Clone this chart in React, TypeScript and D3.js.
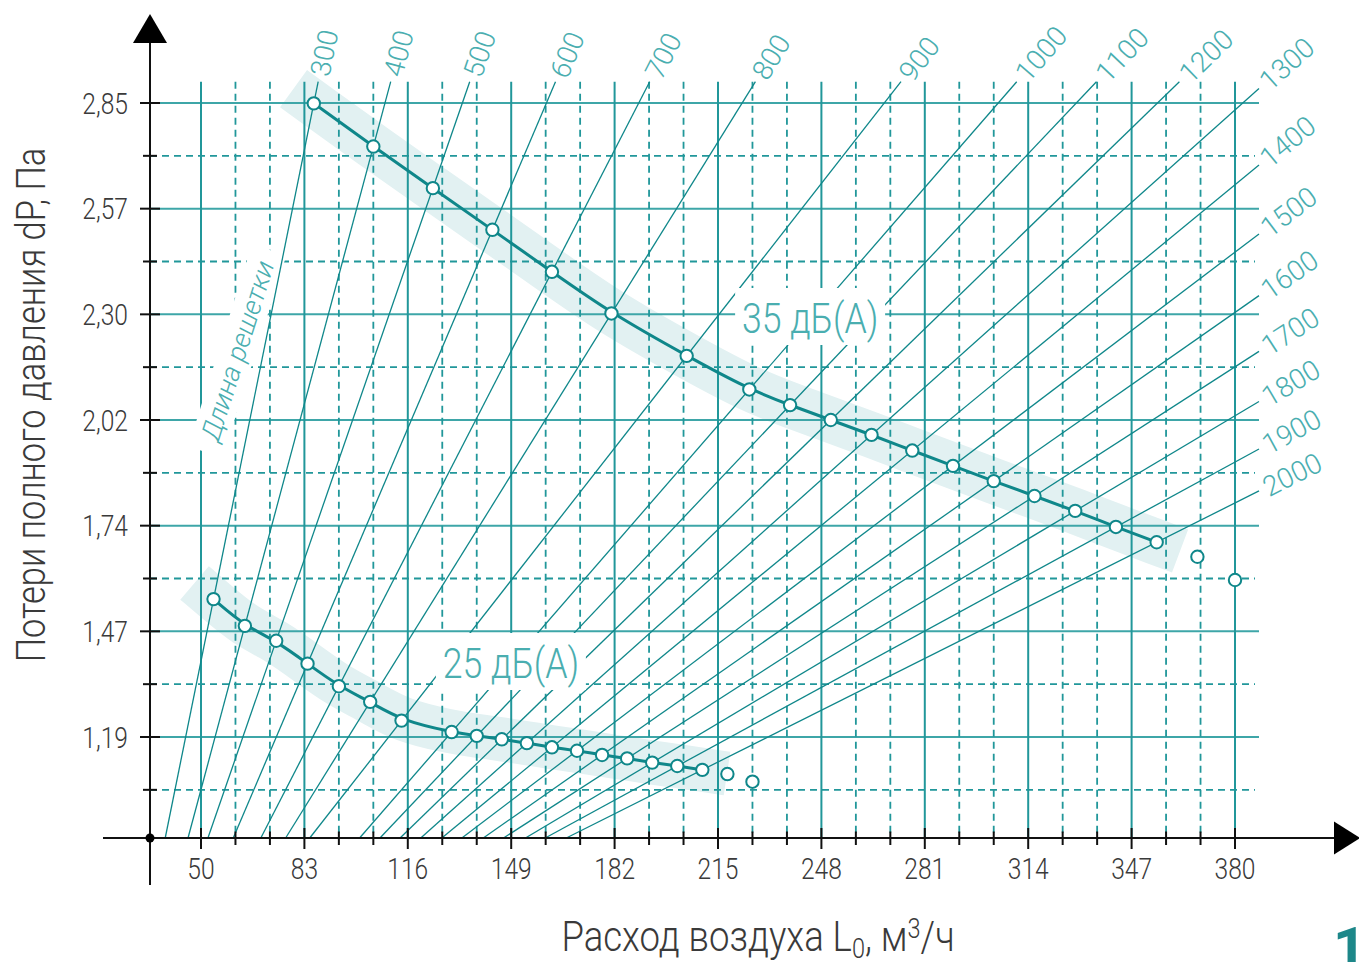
import React from "react";
import * as d3 from "d3";

// ---------- data ----------
const xTickLabels = ["50", "83", "116", "149", "182", "215", "248", "281", "314", "347", "380"];
const yTickLabels = ["1,19", "1,47", "1,74", "2,02", "2,30", "2,57", "2,85"];
const xMin = 50;
const xMax = 380;
const xMajorStep = 33;
const xMinorStep = 11;
const yMin = 1.19;
const yMax = 2.85;
const yMajorCount = 6;

// grille lengths, mm
const lengths = [300, 400, 500, 600, 700, 800, 900, 1000, 1100, 1200, 1300, 1400, 1500, 1600, 1700, 1800, 1900, 2000];

// 25 dB(A) series: air flow (m3/h) and pressure loss (Pa)
const flow25 = [54, 64, 74, 84, 94, 104, 114, 130, 138, 146, 154, 162, 170, 178, 186, 194, 202, 210, 218, 226];
const dp25 = [1.551, 1.481, 1.442, 1.382, 1.323, 1.282, 1.233, 1.203, 1.193, 1.184, 1.174, 1.163, 1.154, 1.143, 1.134, 1.123, 1.114, 1.104, 1.093, 1.073];

// 35 dB(A) series
const flow35 = [86, 105, 124, 143, 162, 181, 205, 225, 238, 251, 264, 277, 290, 303, 316, 329, 342, 355, 368, 380];
const dp35 = [2.849, 2.736, 2.627, 2.518, 2.408, 2.299, 2.188, 2.1, 2.059, 2.02, 1.981, 1.94, 1.9, 1.86, 1.821, 1.782, 1.74, 1.7, 1.662, 1.601];

const seriesLabels = ["25 дБ(А)", "35 дБ(А)"];
const labelAnchorFlow = [148.9, 244.4];
const labelAnchorDp = [1.3445, 2.2478];
const lengthTitle = "Длина решетки";
const lengthTitleFlow = 61.6;
const lengthTitleDp = 2.201;
const yTitle = "Потери полного давления dP, Па";
const pageNumber = "1";

// ---------- style ----------
const FONT = "Roboto, 'Open Sans', 'DejaVu Sans', sans-serif";
const TEAL = "#0f878a";
const GRID = "#21979a";
const GRID_H = "#3ea6a8";
const LABEL = "#4aaeb0";
const BAND = "#e2f1f2";
const TXT = "#3a3a3a";

type P = [number, number];

function Txt(props: any) {
  const { x, y, rot = 0, sx = 1, size, fill, anchor = "start", weight = 300, italic, dy, children } = props;
  return (
    <text
      transform={`translate(${x},${y}) rotate(${rot}) scale(${sx},1)`}
      fontSize={size}
      fill={fill}
      textAnchor={anchor}
      fontWeight={weight}
      fontFamily={FONT}
      fontStyle={italic ? "italic" : "normal"}
      dy={dy}
    >
      {children}
    </text>
  );
}

export default function App() {
  const W = 1359;
  const H = 962;
  const x = d3.scaleLinear().domain([xMin, xMax]).range([201, 1235]);
  const y = d3.scaleLinear().domain([yMin, yMax]).range([737, 103]);
  const axisX = 150;
  const axisY = 838;
  const gridTop = 81.7;
  const gridRight = 1259;

  const yStep = (yMax - yMin) / yMajorCount;
  const yMajor = d3.range(yMajorCount + 1).map((i) => yMin + i * yStep);
  const yMinor = d3.range(yMajorCount + 1).map((i) => yMin - yStep / 2 + i * yStep);
  const xMajor = d3.range(xMin, xMax + 0.001, xMajorStep);
  const xMinor = d3
    .range(xMin, xMax + 0.001, xMinorStep)
    .filter((v) => Math.abs((v - xMin) / xMajorStep - Math.round((v - xMin) / xMajorStep)) > 1e-6);

  const n = lengths.length;
  const pts25: P[] = flow25.map((f, i) => [x(f), y(dp25[i])]);
  const pts35: P[] = flow35.map((f, i) => [x(f), y(dp35[i])]);

  // grille-length lines through matching points of both series, clipped to the grid
  const diag = lengths.map((L, i) => {
    const p1 = pts25[i];
    const p2 = pts35[i];
    const dx = p2[0] - p1[0];
    const dy = p2[1] - p1[1];
    const tb = (axisY - p1[1]) / dy;
    const bottom: P = [p1[0] + tb * dx, axisY];
    const tt = (gridTop - p1[1]) / dy;
    const tr = (gridRight - p1[0]) / dx;
    const t = Math.min(tt, tr);
    const top: P = [p1[0] + t * dx, p1[1] + t * dy];
    const len = Math.hypot(dx, dy);
    const ux = dx / len;
    const uy = dy / len;
    const ang = (Math.atan2(dy, dx) * 180) / Math.PI;
    return { L, bottom, top, ux, uy, ang };
  });

  const curveGen = d3.line<P>().x((d) => d[0]).y((d) => d[1]).curve(d3.curveBasis);

  const extend = (pts: P[], ext: number): P[] => {
    const a = pts[0], b = pts[1];
    const la = Math.hypot(b[0] - a[0], b[1] - a[1]);
    const s: P = [a[0] - ((b[0] - a[0]) / la) * ext, a[1] - ((b[1] - a[1]) / la) * ext];
    const c = pts[pts.length - 2], d = pts[pts.length - 1];
    const lc = Math.hypot(d[0] - c[0], d[1] - c[1]);
    const e: P = [d[0] + ((d[0] - c[0]) / lc) * ext, d[1] + ((d[1] - c[1]) / lc) * ext];
    return [s, s, ...pts, e, e];
  };

  const curve25 = pts25.slice(0, n);
  const curve35 = pts35.slice(0, n);
  const withEnds = (pts: P[]): P[] => [pts[0], ...pts, pts[pts.length - 1]];

  const lx = labelAnchorFlow.map((f) => x(f));
  const ly = labelAnchorDp.map((v) => y(v));

  const ltx = x(lengthTitleFlow);
  const lty = y(lengthTitleDp);
  const ltAng = -72.5;

  return (
    <svg width={W} height={H} style={{ position: "absolute", left: 0, top: 0, background: "#fff" }}>
      <rect x={0} y={0} width={W} height={H} fill="#fff" />
      {/* bands */}
      <path d={curveGen(extend(curve35, 25)) || ""} fill="none" stroke={BAND} strokeWidth={46} strokeLinecap="butt" />
      <path d={curveGen(extend(curve25, 25)) || ""} fill="none" stroke={BAND} strokeWidth={44} strokeLinecap="butt" />

      {/* grid */}
      {yMinor.map((v, i) => (
        <line key={"hm" + i} x1={axisX} x2={gridRight - 4} y1={y(v)} y2={y(v)} stroke={GRID} strokeWidth={1.8} strokeDasharray="7,5" />
      ))}
      {yMajor.map((v, i) => (
        <line key={"hM" + i} x1={axisX} x2={gridRight} y1={y(v)} y2={y(v)} stroke={GRID_H} strokeWidth={2} />
      ))}
      {xMinor.map((v, i) => (
        <line key={"vm" + i} x1={x(v)} x2={x(v)} y1={gridTop} y2={axisY} stroke={GRID} strokeWidth={1.8} strokeDasharray="7,5" />
      ))}
      {xMajor.map((v, i) => (
        <line key={"vM" + i} x1={x(v)} x2={x(v)} y1={gridTop} y2={axisY} stroke={GRID} strokeWidth={2} />
      ))}

      {/* white box behind "Длина решетки" */}
      <rect transform={`translate(${ltx},${lty}) rotate(${ltAng})`} x={-106} y={-18} width={212} height={36} fill="#fff" />

      {/* grille-length lines */}
      {diag.map((d) => (
        <line key={"d" + d.L} x1={d.bottom[0]} y1={d.bottom[1]} x2={d.top[0]} y2={d.top[1]} stroke={TEAL} strokeWidth={1.3} />
      ))}
      {diag.map((d) => (
        <Txt key={"dl" + d.L} x={d.top[0] + d.ux * 6} y={d.top[1] + d.uy * 6} rot={d.ang} size={28} fill={LABEL} dy="0.36em">
          {d.L}
        </Txt>
      ))}

      {/* label boxes */}
      {seriesLabels.map((s, i) => (
        <rect key={"lb" + i} x={lx[i] - 75} y={ly[i] - 45} width={150} height={57} fill="#fff" />
      ))}
      {seriesLabels.map((s, i) => (
        <Txt key={"lt" + i} x={lx[i]} y={ly[i]} size={43} sx={0.83} fill={LABEL} anchor="middle">
          {s}
        </Txt>
      ))}

      <Txt x={ltx} y={lty} rot={ltAng} size={27} fill={LABEL} anchor="middle" italic dy="0.35em">
        {lengthTitle}
      </Txt>

      {/* curves */}
      <path d={curveGen(withEnds(curve35)) || ""} fill="none" stroke={TEAL} strokeWidth={3} />
      <path d={curveGen(withEnds(curve25)) || ""} fill="none" stroke={TEAL} strokeWidth={3} />
      {pts35.map((p, i) => (
        <circle key={"c35" + i} cx={p[0]} cy={p[1]} r={6.2} fill="#fff" stroke={TEAL} strokeWidth={2} />
      ))}
      {pts25.map((p, i) => (
        <circle key={"c25" + i} cx={p[0]} cy={p[1]} r={6.2} fill="#fff" stroke={TEAL} strokeWidth={2} />
      ))}

      {/* axes */}
      <line x1={axisX} x2={axisX} y1={40} y2={885} stroke="#111" strokeWidth={2} />
      <line x1={103} x2={1336} y1={axisY} y2={axisY} stroke="#111" strokeWidth={2} />
      <path d={`M${axisX},14 L${axisX + 17},43 L${axisX - 17},43 Z`} fill="#000" />
      <path d={`M1360,${axisY} L1334,${axisY - 16.5} L1334,${axisY + 16.5} Z`} fill="#000" />
      <circle cx={axisX} cy={axisY} r={4.5} fill="#000" />
      {yMajor.map((v, i) => (
        <line key={"yt" + i} x1={axisX - 10} x2={axisX + 10} y1={y(v)} y2={y(v)} stroke="#111" strokeWidth={2} />
      ))}
      {yMinor.map((v, i) => (
        <line key={"ytm" + i} x1={axisX - 7} x2={axisX + 7} y1={y(v)} y2={y(v)} stroke="#111" strokeWidth={2} />
      ))}
      {xMajor.map((v, i) => (
        <line key={"xt" + i} x1={x(v)} x2={x(v)} y1={axisY - 10} y2={axisY + 11} stroke="#111" strokeWidth={2} />
      ))}
      {xMinor.map((v, i) => (
        <line key={"xtm" + i} x1={x(v)} x2={x(v)} y1={axisY - 6.5} y2={axisY + 7} stroke="#111" strokeWidth={2} />
      ))}

      {/* tick labels */}
      {yMajor.map((v, i) => (
        <Txt key={"yl" + i} x={128} y={y(v) + 10.7} size={30} sx={0.82} fill={TXT} anchor="end">
          {yTickLabels[i]}
        </Txt>
      ))}
      {xMajor.map((v, i) => (
        <Txt key={"xl" + i} x={x(v)} y={879} size={30} sx={0.82} fill={TXT} anchor="middle">
          {xTickLabels[i]}
        </Txt>
      ))}

      {/* axis titles */}
      <Txt x={45} y={405} rot={-90} size={41} sx={0.84} fill={TXT} anchor="middle">
        {yTitle}
      </Txt>
      <text transform={`translate(758,951) scale(0.87,1)`} fontSize={42} fill={TXT} textAnchor="middle" fontWeight={300} fontFamily={FONT}>
        Расход воздуха L
        <tspan fontSize={27} dy={7}>0</tspan>
        <tspan dy={-7}>, м</tspan>
        <tspan fontSize={27} dy={-13}>3</tspan>
        <tspan dy={13}>/ч</tspan>
      </text>

      <text x={1333} y={968} fontSize={58} fontWeight={700} fill="#1d8789" fontFamily={FONT}>
        {pageNumber}
      </text>
    </svg>
  );
}
